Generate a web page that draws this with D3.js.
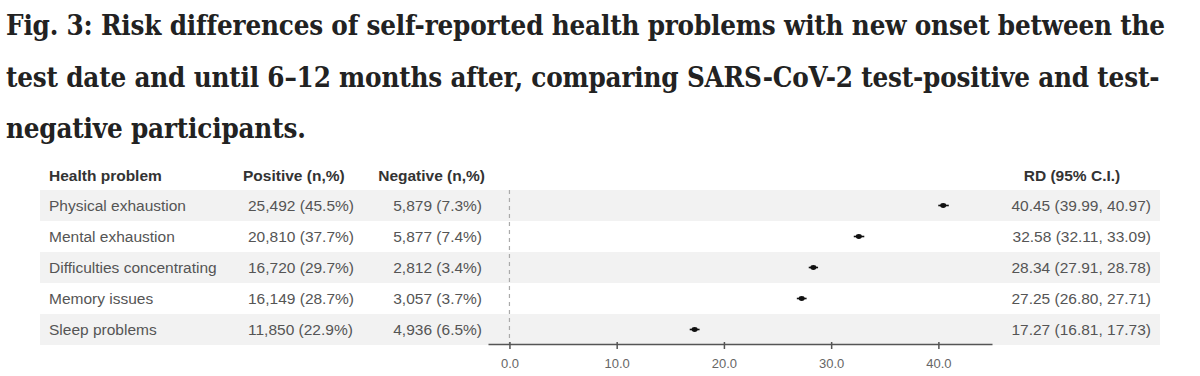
<!DOCTYPE html>
<html>
<head>
<meta charset="utf-8">
<script src="https://cdn.jsdelivr.net/npm/d3@7"></script>
<style>
  html, body { margin: 0; padding: 0; background: #fff; }
  svg { display: block; }
</style>
</head>
<body>
<div id="chart"></div>
<script>
// forest plot data
const titleLines = [
  "Fig. 3: Risk differences of self-reported health problems with new onset between the",
  "test date and until 6\u201312 months after, comparing SARS-CoV-2 test-positive and test-",
  "negative participants."
];
const headers = ["Health problem", "Positive (n,%)", "Negative (n,%)", "RD (95% C.I.)"];
const problems = ["Physical exhaustion", "Mental exhaustion", "Difficulties concentrating", "Memory issues", "Sleep problems"];
const positive = ["25,492 (45.5%)", "20,810 (37.7%)", "16,720 (29.7%)", "16,149 (28.7%)", "11,850 (22.9%)"];
const negative = ["5,879 (7.3%)", "5,877 (7.4%)", "2,812 (3.4%)", "3,057 (3.7%)", "4,936 (6.5%)"];
const rd = [40.45, 32.58, 28.34, 27.25, 17.27];
const ciLow = [39.99, 32.11, 27.91, 26.80, 16.81];
const ciHigh = [40.97, 33.09, 28.78, 27.71, 17.73];
const xTicks = [0, 10, 20, 30, 40];

function drawForest() {
  const W = 1200, H = 376;
  const svg = d3.select("#chart").append("svg")
    .attr("width", W).attr("height", H);

  // title: big bold serif, letter spacing squeezed so line 1 fills the width
  const titleFont = "'DejaVu Serif Condensed', 'Liberation Serif', serif";
  const baselines = [35, 87, 138];
  const tfs = 27.5;
  const tl = svg.append("g").selectAll("text")
    .data(titleLines)
    .enter().append("text")
    .attr("x", 6)
    .attr("y", (d, i) => baselines[i])
    .attr("font-family", titleFont)
    .attr("font-weight", "bold")
    .attr("font-size", tfs)
    .attr("fill", "#222")
    .text(d => d);
  const w0 = tl.nodes()[0].getComputedTextLength();
  const ls = (1158 - w0) / titleLines[0].length;
  tl.attr("letter-spacing", ls.toFixed(2) + "px");

  // table + plot
  const rowTop = 190, rowH = 31;
  const y = d3.scaleBand()
    .domain(problems)
    .range([rowTop, rowTop + rowH * problems.length])
    .padding(0);

  const x = d3.scaleLinear()
    .domain([-2, 45])
    .range([488, 992]);

  const font = "'Liberation Sans', Arial, Helvetica, sans-serif";
  const fsz = 15.5;

  // alternating row bands
  svg.append("g").selectAll("rect")
    .data(problems)
    .enter().append("rect")
    .attr("x", 40)
    .attr("y", d => y(d))
    .attr("width", 1120)
    .attr("height", y.bandwidth())
    .attr("fill", (d, i) => i % 2 === 0 ? "#f2f2f2" : "#fff");

  // headers
  const headY = 181;
  const hx = [49, 243, 485, 1072];
  const hanchor = ["start", "start", "end", "middle"];
  svg.append("g").selectAll("text")
    .data(headers)
    .enter().append("text")
    .attr("x", (d, i) => hx[i])
    .attr("y", headY)
    .attr("text-anchor", (d, i) => hanchor[i])
    .attr("font-family", font)
    .attr("font-weight", "bold")
    .attr("font-size", fsz)
    .attr("fill", "#333")
    .text(d => d);

  const cells = svg.append("g")
    .attr("font-family", font)
    .attr("font-size", fsz)
    .attr("fill", "#555");

  const cy = d => y(d) + y.bandwidth() / 2;

  cells.selectAll("text.prob")
    .data(problems)
    .enter().append("text")
    .attr("class", "prob")
    .attr("x", 49)
    .attr("y", d => cy(d))
    .attr("dy", "0.36em")
    .text(d => d);

  cells.selectAll("text.pos")
    .data(positive)
    .enter().append("text")
    .attr("class", "pos")
    .attr("x", 248)
    .attr("y", (d, i) => cy(problems[i]))
    .attr("dy", "0.36em")
    .text(d => d);

  cells.selectAll("text.neg")
    .data(negative)
    .enter().append("text")
    .attr("class", "neg")
    .attr("x", 482)
    .attr("text-anchor", "end")
    .attr("y", (d, i) => cy(problems[i]))
    .attr("dy", "0.36em")
    .text(d => d);

  cells.selectAll("text.rd")
    .data(rd)
    .enter().append("text")
    .attr("class", "rd")
    .attr("x", 1151)
    .attr("text-anchor", "end")
    .attr("y", (d, i) => cy(problems[i]))
    .attr("dy", "0.36em")
    .text((d, i) => `${d.toFixed(2)} (${ciLow[i].toFixed(2)}, ${ciHigh[i].toFixed(2)})`);

  // reference line at zero
  const axisY = rowTop + rowH * problems.length - 1;
  svg.append("line")
    .attr("x1", x(0)).attr("x2", x(0))
    .attr("y1", rowTop).attr("y2", axisY)
    .attr("stroke", "#aaa")
    .attr("stroke-width", 1.2)
    .attr("stroke-dasharray", "4,4");

  // estimates with CI
  const est = svg.append("g");
  rd.forEach((v, i) => {
    const yy = cy(problems[i]);
    est.append("line")
      .attr("x1", x(ciLow[i])).attr("x2", x(ciHigh[i]))
      .attr("y1", yy).attr("y2", yy)
      .attr("stroke", "#111")
      .attr("stroke-width", 1.6);
    est.append("ellipse")
      .attr("cx", x(v)).attr("cy", yy)
      .attr("rx", 3).attr("ry", 2.4)
      .attr("fill", "#111");
  });

  // x axis
  const ax = svg.append("g")
    .attr("transform", `translate(0,${axisY})`)
    .call(d3.axisBottom(x)
      .tickValues(xTicks)
      .tickFormat(d3.format(".1f"))
      .tickSize(5)
      .tickSizeOuter(0)
      .tickPadding(10));
  ax.select(".domain").attr("stroke", "#555").attr("stroke-width", 1.5);
  ax.selectAll(".tick line").attr("stroke", "#555").attr("stroke-width", 1.5).attr("y1", -2);
  ax.selectAll(".tick text")
    .attr("font-family", font)
    .attr("font-size", 13)
    .attr("fill", "#666");
}

drawForest();
</script>
</body>
</html>
